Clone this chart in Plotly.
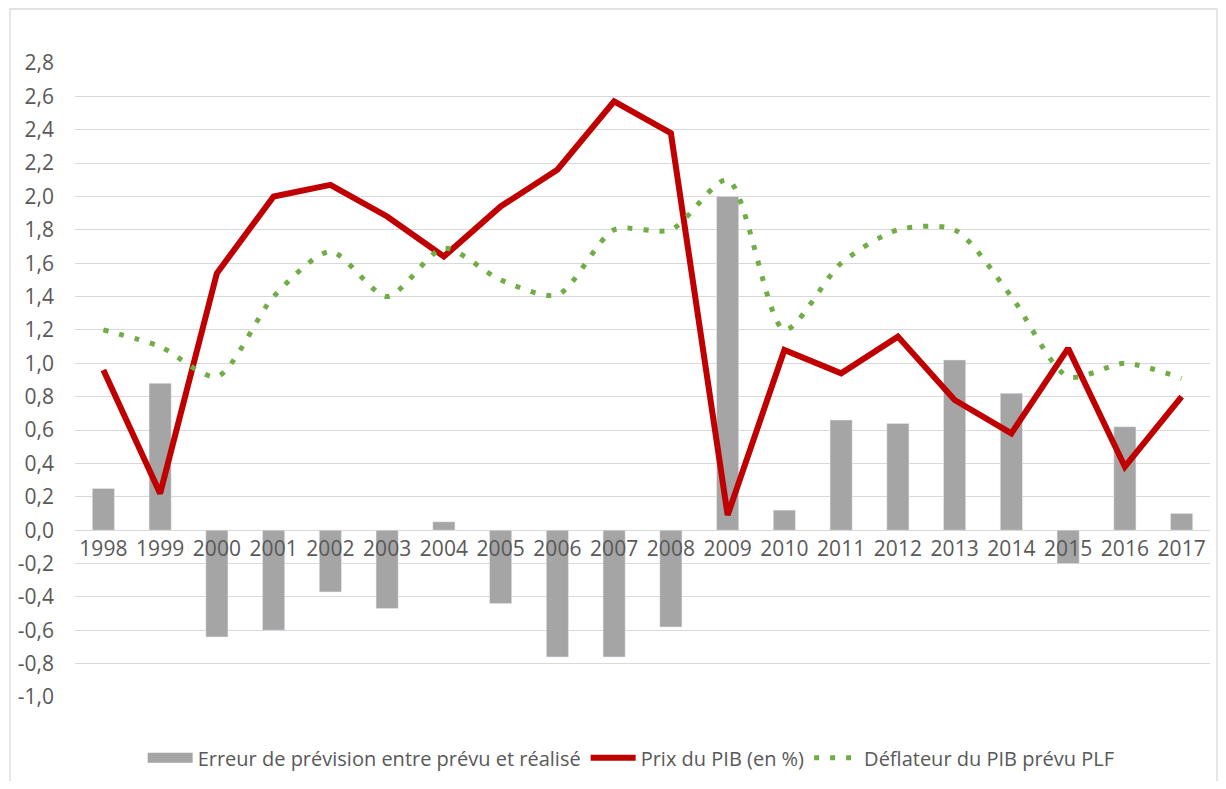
import plotly.graph_objects as go

years = [str(y) for y in range(1998, 2018)]

erreur = [0.25, 0.88, -0.64, -0.60, -0.37, -0.47, 0.05, -0.44, -0.76, -0.76,
          -0.58, 2.00, 0.12, 0.66, 0.64, 1.02, 0.82, -0.20, 0.62, 0.10]
prix_pib = [0.96, 0.22, 1.54, 2.00, 2.07, 1.88, 1.64, 1.94, 2.16, 2.57,
            2.38, 0.09, 1.08, 0.94, 1.16, 0.78, 0.58, 1.09, 0.38, 0.80]
deflateur = [1.20, 1.10, 0.92, 1.40, 1.67, 1.40, 1.69, 1.50, 1.41, 1.80,
             1.80, 2.10, 1.20, 1.60, 1.80, 1.80, 1.40, 0.92, 1.00, 0.91]

y_ticks = [round(-1.0 + 0.2 * i, 1) for i in range(20)]
y_labels = [f"{v:.1f}".replace(".", ",") for v in y_ticks]

font = "Open Sans"
txt = "#595959"
W, H = 1210, 773   # page body has an 8px margin

fig = go.Figure()
fig.add_trace(go.Bar(x=years, y=erreur, name="Erreur de prévision entre prévu et réalisé",
                     marker_color="#A5A5A5", width=0.39, showlegend=False))
# legend entry for the bars, drawn as a thick line so it looks like excel's long swatch
fig.add_trace(go.Scatter(x=[None], y=[None], mode="lines",
                         name="Erreur de prévision entre prévu et réalisé",
                         line=dict(color="#A5A5A5", width=11)))
fig.add_trace(go.Scatter(x=years, y=prix_pib, name="Prix du PIB (en %)", mode="lines",
                         line=dict(color="#C00000", width=6)))
fig.add_trace(go.Scatter(x=years, y=deflateur, name="Déflateur du PIB prévu PLF", mode="lines",
                         line=dict(color="#70AD47", width=5, dash="5px,11px", shape="spline",
                                   smoothing=0.75)))

fig.update_layout(
    width=W, height=H,
    margin=dict(l=67, r=8, t=55, b=84, autoexpand=False),
    plot_bgcolor="white", paper_bgcolor="white",
    font=dict(family=font, size=21, color=txt),
    showlegend=True,
    legend=dict(orientation="h", x=0.49, xanchor="center", y=-0.096, yanchor="middle",
                font=dict(size=20, color=txt), itemwidth=45, traceorder="normal"),
)
fig.update_yaxes(range=[-1.0, 2.8], tickvals=y_ticks, ticktext=y_labels,
                 showgrid=True, gridcolor="#D9D9D9", gridwidth=1.3,
                 zeroline=True, zerolinecolor="#D9D9D9", zerolinewidth=1.3,
                 ticklabelstandoff=20, showline=False)
fig.update_xaxes(type="category", anchor="free", position=1.0 / 3.8,
                 showgrid=False, showline=False, zeroline=False, ticks="",
                 ticklabelstandoff=4)

# chart border
pw, ph = W - 67 - 8, H - 55 - 84
fig.add_shape(type="rect", xref="paper", yref="paper",
              x0=(2 - 67) / pw, x1=(1209 - 67) / pw,
              y0=-(H - 55 - ph + 5) / ph, y1=1 + 54 / ph,
              line=dict(color="#D9D9D9", width=1.3), layer="below")

fig.write_html("out.html")
